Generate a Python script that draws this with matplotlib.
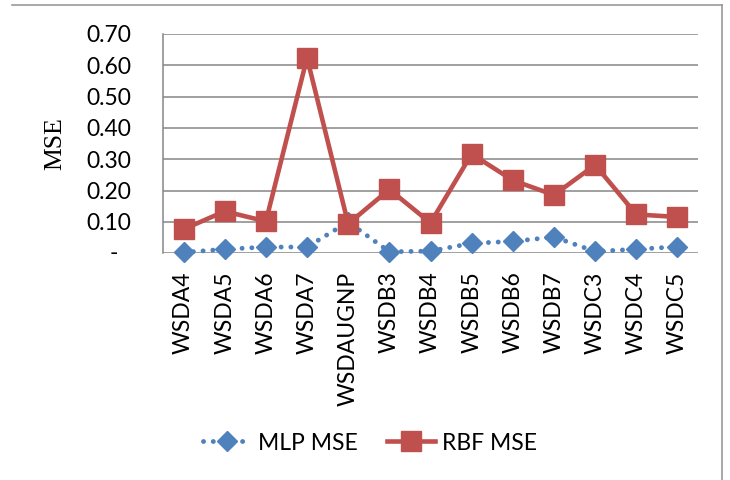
import matplotlib.pyplot as plt
from matplotlib.lines import Line2D

# modeles testes
modeles = ['WSDA4', 'WSDA5', 'WSDA6', 'WSDA7', 'WSDAUGNP', 'WSDB3', 'WSDB4',
           'WSDB5', 'WSDB6', 'WSDB7', 'WSDC3', 'WSDC4', 'WSDC5']
mse_mlp = [0.003, 0.013, 0.02, 0.02, 0.10, 0.005, 0.007, 0.032, 0.038, 0.052, 0.006, 0.013, 0.021]
mse_rbf = [0.077, 0.134, 0.102, 0.624, 0.094, 0.204, 0.097, 0.317, 0.233, 0.186, 0.282, 0.124, 0.116]
graduations = [0.0, 0.1, 0.2, 0.3, 0.4, 0.5, 0.6, 0.7]
etiquettes_y = ['', '0.10', '0.20', '0.30', '0.40', '0.50', '0.60', '0.70']

bleu = '#4F81BD'
rouge = '#C0504D'
gris = '#868686'
police = ['Lato', 'DejaVu Sans']
taille = 16.5

fig = plt.figure(figsize=(7.3, 4.8), dpi=100)
ax = fig.add_axes([163/730, 1-253.3/480, 535/730, (253.3-34)/480])

x = list(range(len(modeles)))
ax.plot(x, mse_mlp, color=bleu, lw=3.5, linestyle=(0, (0.01, 2.0)),
        dash_capstyle='round', marker='D', markersize=10, clip_on=False,
        label='MLP MSE', zorder=3)
ax.plot(x, mse_rbf, color=rouge, lw=3.3, marker='s', markersize=14,
        clip_on=False, label='RBF MSE', zorder=4)

ax.set_xlim(-0.5, len(modeles)-0.5)
ax.set_ylim(0, 0.7)
ax.set_yticks(graduations)
ax.set_yticklabels(etiquettes_y, family=police, fontsize=taille)
ax.set_xticks(x)
ax.set_xticklabels(modeles, rotation=90, family=police, fontsize=taille,
                   va='top', ha='center')
ax.tick_params(axis='y', length=0, pad=23)
ax.tick_params(axis='x', length=0, pad=13)
ax.grid(axis='y', color=gris, lw=1.1)
ax.set_axisbelow(True)
for cote in ['top', 'right', 'bottom']:
    ax.spines[cote].set_visible(False)
ax.spines['left'].set_color(gris)
ax.spines['left'].set_linewidth(1.1)

# tiret pour le zero
ax.text(-45/535, 0, '-', transform=ax.get_yaxis_transform(), ha='right',
        va='center', family=police, fontsize=taille)

fig.text(55/730, 1-144/480, 'MSE', rotation=90, ha='center', va='center',
         family='Liberation Serif', fontsize=18.5)

leg = fig.legend(loc='center', bbox_to_anchor=(370/730, 1-443/480), ncol=2,
                 frameon=False, prop={'family': police, 'size': taille},
                 handlelength=2.1, handletextpad=0.3, columnspacing=1.3)

# cadre du graphique
fig.add_artist(Line2D([12/730, 722/730], [1-5/480, 1-5/480], color='#999999', lw=1.2))
fig.add_artist(Line2D([722/730, 722/730], [1-5/480, 0], color='#999999', lw=1.2))

fig.savefig('out.png', dpi=100)
